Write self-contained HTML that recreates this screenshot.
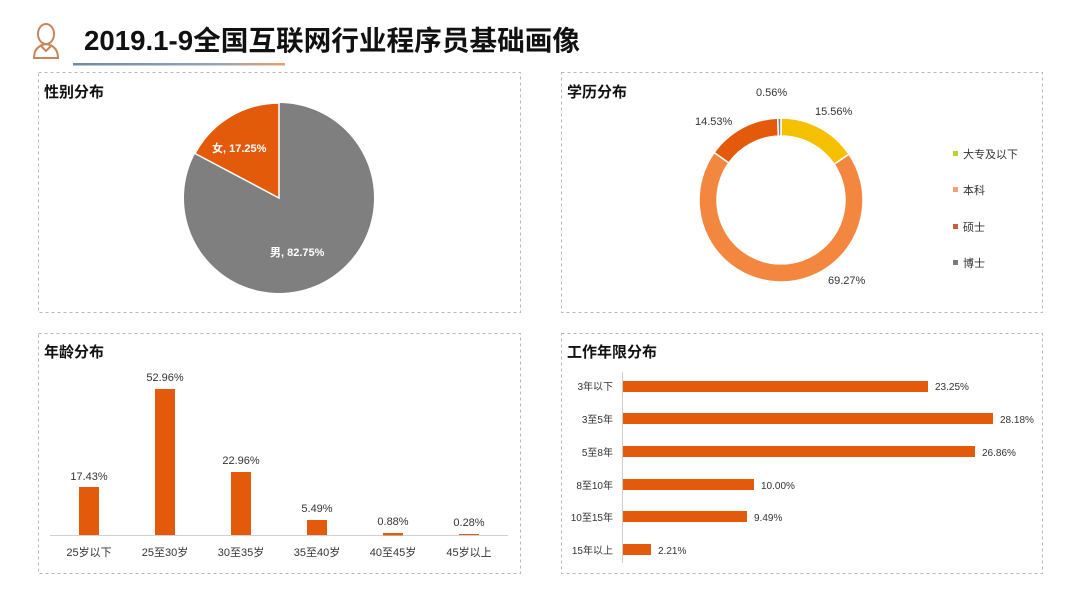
<!DOCTYPE html>
<html><head><meta charset="utf-8"><style>
body{margin:0;background:#fff;}
svg{display:block;font-family:"Liberation Sans","Noto Sans CJK SC",sans-serif;}
</style></head><body>
<svg width="1080" height="608" viewBox="0 0 1080 608">
<defs><linearGradient id="ul" x1="0" x2="1"><stop offset="0" stop-color="#6e8aa6"/><stop offset="0.7" stop-color="#9aa6b4"/><stop offset="1" stop-color="#e8a070"/></linearGradient></defs>
<g fill="none" stroke="#c8845a" stroke-width="2">
<ellipse cx="46" cy="34" rx="8" ry="10"/>
<path d="M34 58 q0-12 12-14 q12 2 12 14 z"/>
<path d="M40 45 l6 6 l6-6"/>
</g>
<text x="84" y="50" font-size="27.5" font-weight="bold" fill="#111" textLength="496" lengthAdjust="spacingAndGlyphs">2019.1-9全国互联网行业程序员基础画像</text>
<rect x="73" y="63" width="212" height="2.5" fill="url(#ul)"/>
<g fill="none" stroke="#b8b8b8" stroke-dasharray="3,3">
<rect x="38.5" y="72.5" width="482" height="240"/>
<rect x="561.5" y="72.5" width="481" height="240"/>
<rect x="38.5" y="333.5" width="482" height="240"/>
<rect x="561.5" y="333.5" width="481" height="240"/>
</g>
<g font-size="15" font-weight="bold" fill="#111">
<text x="44" y="97">性别分布</text>
<text x="567" y="97">学历分布</text>
<text x="44" y="357">年龄分布</text>
<text x="567" y="357">工作年限分布</text>
</g>
<circle cx="279" cy="198" r="95" fill="#7f7f80"/>
<path d="M279 198 L279 103 A95 95 0 0 0 195 153.5 Z" fill="#e35a0b" stroke="#fff" stroke-width="1.5"/>
<text x="212" y="152" font-size="11" font-weight="bold" fill="#fff">女, 17.25%</text>
<text x="270" y="256" font-size="11" font-weight="bold" fill="#fff">男, 82.75%</text>
<g stroke="#fff" stroke-width="1.5">
<path d="M781 118 A82 82 0 0 1 849 154.2 L834.1 164.2 A64 64 0 0 0 781 136 Z" fill="#f5c000"/>
<path d="M849 154.2 A82 82 0 1 1 714.2 152.5 L728.8 162.9 A64 64 0 1 0 834.1 164.2 Z" fill="#f4873f"/>
<path d="M714.2 152.5 A82 82 0 0 1 777.7 118.1 L778.4 136.1 A64 64 0 0 0 728.8 162.9 Z" fill="#e35a0b"/>
<path d="M777.7 118.1 A82 82 0 0 1 781 118 L781 136 A64 64 0 0 0 778.4 136.1 Z" fill="#808080"/>
</g>
<g font-size="11" fill="#333">
<text x="756" y="96">0.56%</text>
<text x="815" y="115">15.56%</text>
<text x="695" y="125">14.53%</text>
<text x="828" y="284">69.27%</text>
</g>
<g font-size="11" fill="#333">
<rect x="953" y="151" width="5" height="5" fill="#b8d432"/><text x="963" y="158">大专及以下</text>
<rect x="953" y="187" width="5" height="5" fill="#f0a27c"/><text x="963" y="194">本科</text>
<rect x="953" y="224" width="5" height="5" fill="#c8603a"/><text x="963" y="231">硕士</text>
<rect x="953" y="260" width="5" height="5" fill="#7a7a7a"/><text x="963" y="267">博士</text>
</g>
<line x1="50" y1="535.5" x2="508" y2="535.5" stroke="#d0d0d0"/>
<g fill="#e35a0b">
<rect x="79" y="487" width="20" height="48"/>
<rect x="155" y="389" width="20" height="146"/>
<rect x="231" y="472" width="20" height="63"/>
<rect x="307" y="520" width="20" height="15"/>
<rect x="383" y="533" width="20" height="2.4"/>
<rect x="459" y="534" width="20" height="1"/>
</g>
<g font-size="11" fill="#333" text-anchor="middle">
<text x="89" y="480">17.43%</text>
<text x="165" y="381">52.96%</text>
<text x="241" y="464">22.96%</text>
<text x="317" y="512">5.49%</text>
<text x="393" y="525">0.88%</text>
<text x="469" y="526">0.28%</text>
<text x="89" y="556">25岁以下</text>
<text x="165" y="556">25至30岁</text>
<text x="241" y="556">30至35岁</text>
<text x="317" y="556">35至40岁</text>
<text x="393" y="556">40至45岁</text>
<text x="469" y="556">45岁以上</text>
</g>
<line x1="622.5" y1="372" x2="622.5" y2="563" stroke="#d0d0d0"/>
<g fill="#e35a0b">
<rect x="623" y="381" width="305" height="11"/>
<rect x="623" y="413" width="370" height="11"/>
<rect x="623" y="446" width="352" height="11"/>
<rect x="623" y="479" width="131" height="11"/>
<rect x="623" y="511" width="124" height="11"/>
<rect x="623" y="544" width="28" height="11"/>
</g>
<g font-size="10" fill="#333">
<text x="935" y="390">23.25%</text>
<text x="1000" y="423">28.18%</text>
<text x="982" y="456">26.86%</text>
<text x="761" y="489">10.00%</text>
<text x="754" y="521">9.49%</text>
<text x="658" y="554">2.21%</text>
</g>
<g font-size="10" fill="#333" text-anchor="end">
<text x="613" y="390">3年以下</text>
<text x="613" y="423">3至5年</text>
<text x="613" y="456">5至8年</text>
<text x="613" y="489">8至10年</text>
<text x="613" y="521">10至15年</text>
<text x="613" y="554">15年以上</text>
</g>
</svg>
</body></html>
